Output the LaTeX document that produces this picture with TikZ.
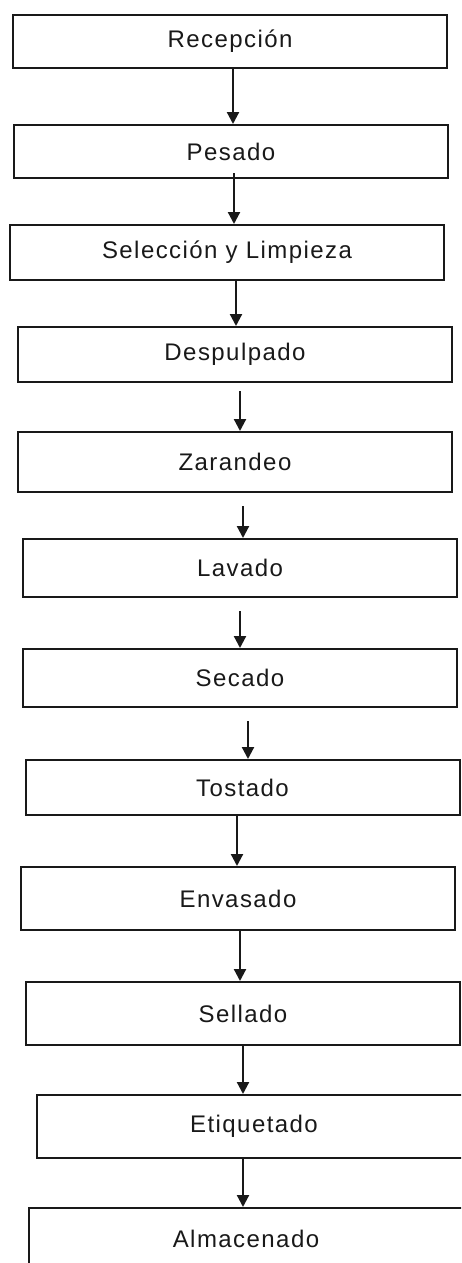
\documentclass[tikz,border=0pt]{standalone}
\usepackage{fontspec}
\setmainfont{Liberation Sans}[LetterSpace=6]
\usetikzlibrary{arrows.meta}
\tikzset{
  stage/.style={draw=black!90, line width=2pt, fill=white, inner sep=0pt,
    minimum width=434pt, minimum height=#1, text=black!90,
    font=\fontsize{24}{28}\selectfont},
  stage/.default=54pt,
  flow/.style={line width=2.2pt, draw=black!90,
    -{Triangle[width=12pt,length=12pt]}}
}
\begin{document}
\begin{tikzpicture}[x=1pt,y=-1pt]
\useasboundingbox (0,0) rectangle (461,1263);
\clip (0,0) rectangle (461,1263);
\fill[white] (0,0) rectangle (461,1263);

% process stages, top to bottom
\node[stage=53pt] (b1)  at (230,41.5)  {Recepción};
\node[stage=53pt] (b2)  at (231,151.5) {Pesado};
\node[stage=55pt] (b3)  at (227,252.5) {Selección y Limpieza};
\node[stage=55pt] (b4)  at (235,354.5) {Despulpado};
\node[stage=60pt] (b5)  at (235,462)   {Zarandeo};
\node[stage=58pt] (b6)  at (240,568)   {Lavado};
\node[stage=58pt] (b7)  at (240,678)   {Secado};
\node[stage=55pt] (b8)  at (242.5,787.5) {Tostado};
\node[stage=63pt] (b9)  at (238,898.5) {Envasado};
\node[stage=63pt] (b10) at (243,1013.5) {Sellado};
\node[stage=63pt] (b11) at (254,1126.5) {Etiquetado};
\node[stage=62pt] (b12) at (246,1239)  {Almacenado};

% connectors between consecutive stages
\draw[flow] (233,0 |- b1.south) -- (233,0 |- b2.north);
\draw[flow, shorten <=-6pt] (234,0 |- b2.south) -- (234,0 |- b3.north);
\draw[flow] (236,0 |- b3.south) -- (236,0 |- b4.north);
\draw[flow, shorten <=8pt] (240,0 |- b4.south) -- (240,0 |- b5.north);
\draw[flow, shorten <=13pt] (243,0 |- b5.south) -- (243,0 |- b6.north);
\draw[flow, shorten <=13pt] (240,0 |- b6.south) -- (240,0 |- b7.north);
\draw[flow, shorten <=13pt] (248,0 |- b7.south) -- (248,0 |- b8.north);
\draw[flow] (237,0 |- b8.south) -- (237,0 |- b9.north);
\draw[flow] (240,0 |- b9.south) -- (240,0 |- b10.north);
\draw[flow] (243,0 |- b10.south) -- (243,0 |- b11.north);
\draw[flow] (243,0 |- b11.south) -- (243,0 |- b12.north);
\end{tikzpicture}
\end{document}
